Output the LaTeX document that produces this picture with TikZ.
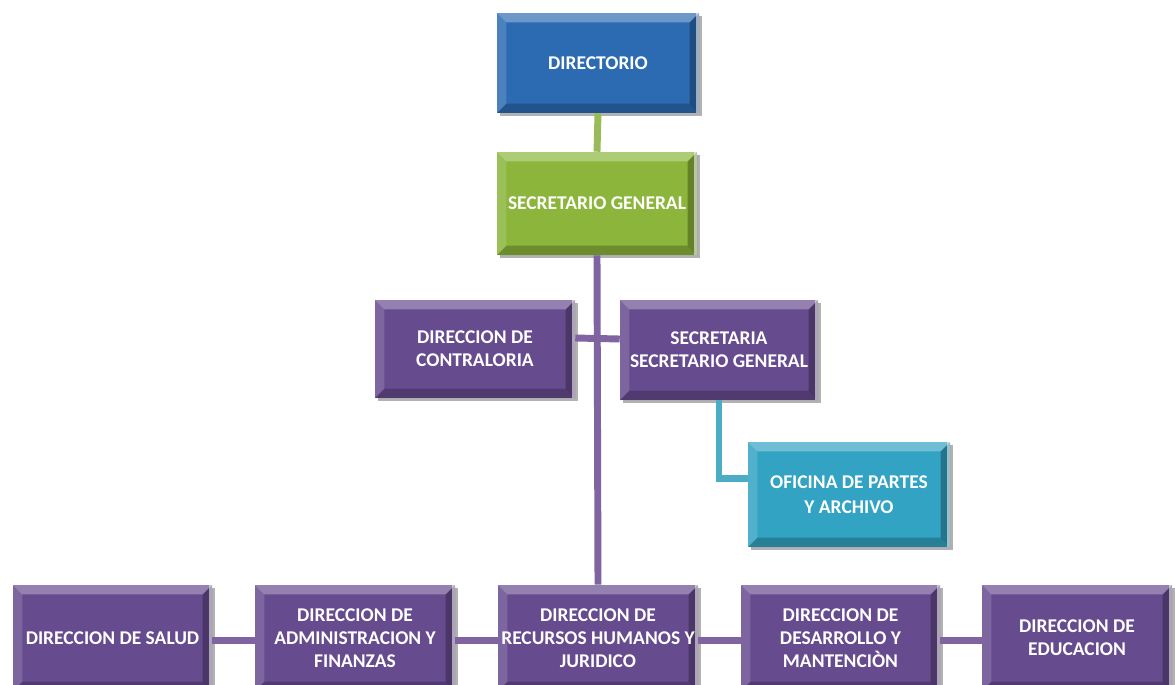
\documentclass[tikz,border=0pt]{standalone}
\usepackage{fontspec}
\setmainfont{Carlito}
\usetikzlibrary{shadows}
\definecolor{cblue}{HTML}{2C6BB2}
\definecolor{cgreen}{HTML}{8BB53B}
\definecolor{cpurple}{HTML}{674B8F}
\definecolor{ccyan}{HTML}{33A3C3}
\definecolor{lgreen}{HTML}{9BBB59}
\definecolor{lpurple}{HTML}{8064A2}
\definecolor{lcyan}{HTML}{4BACC6}
\tikzset{
  bevel/.style={path picture={
    \def\bb{path picture bounding box}
    \fill[white,opacity=.30] (\bb.north west) -- (\bb.north east) -- ([shift={(-7pt,-7pt)}]\bb.north east) -- ([shift={(7pt,-7pt)}]\bb.north west) -- cycle;
    \fill[white,opacity=.15] (\bb.north west) -- ([shift={(7pt,-7pt)}]\bb.north west) -- ([shift={(7pt,7pt)}]\bb.south west) -- (\bb.south west) -- cycle;
    \fill[black,opacity=.22] (\bb.south west) -- ([shift={(7pt,7pt)}]\bb.south west) -- ([shift={(-7pt,7pt)}]\bb.south east) -- (\bb.south east) -- cycle;
    \fill[black,opacity=.28] (\bb.north east) -- ([shift={(-7pt,-7pt)}]\bb.north east) -- ([shift={(-7pt,7pt)}]\bb.south east) -- (\bb.south east) -- cycle;
    \fill[white,opacity=.55] ([xshift=-2.2pt]\bb.north east) rectangle (\bb.south east);
  }},
  orgbox/.style={rectangle, bevel, text=white, align=center, inner sep=0pt,
    font=\fontsize{14.6pt}{17.3pt}\selectfont\bfseries,
    drop shadow={shadow xshift=2.5pt, shadow yshift=-2.5pt, opacity=.3, fill=black}},
  sz/.style 2 args={minimum width={#1*0.75pt}, minimum height={#2*0.75pt}},
  bluebox/.style={orgbox, fill=cblue},
  greenbox/.style={orgbox, fill=cgreen},
  purplebox/.style={orgbox, fill=cpurple},
  cyanbox/.style={orgbox, fill=ccyan},
  conn/.style={line width=5.2pt},
}
\begin{document}
\begin{tikzpicture}[x=0.75pt,y=-0.75pt]
\useasboundingbox[fill=white] (0,0) rectangle (1175,685);
% nodes
\node[bluebox, sz={202}{100}] (dir) at (598,63) {DIRECTORIO};
\node[greenbox, sz={200}{103}] (sg) at (597,203.5) {SECRETARIO GENERAL};
\node[purplebox, sz={200}{98}] (contra) at (475,349) {DIRECCION DE\\CONTRALORIA};
\node[purplebox, sz={198}{100}] (secr) at (719,350) {SECRETARIA\\SECRETARIO GENERAL};
\node[cyanbox, sz={202}{105}, font=\fontsize{14.6pt}{19pt}\selectfont\bfseries] (ofi) at (849,494.5) {OFICINA DE PARTES\\Y ARCHIVO};
\node[purplebox, sz={199}{106}] (salud) at (112.5,638) {DIRECCION DE SALUD};
\node[purplebox, sz={200}{106}] (admin) at (355,638) {DIRECCION DE\\ADMINISTRACION Y\\FINANZAS};
\node[purplebox, sz={200}{106}] (rrhh) at (598,638) {DIRECCION DE\\RECURSOS HUMANOS Y\\JURIDICO};
\node[purplebox, sz={199}{106}] (desa) at (840.5,638) {DIRECCION DE\\DESARROLLO Y\\MANTENCI\`ON};
\node[purplebox, sz={190}{106}] (educ) at (1077,638) {DIRECCION DE\\EDUCACION};
% connectors
\draw[conn, lgreen] (dir.south) -- (sg.north);
\draw[conn, lpurple] (sg.south) -- (rrhh.north);
\draw[conn, lpurple] ([yshift=8.25pt]contra.east) -- ([yshift=8.25pt]secr.west);
\draw[conn, lcyan] (secr.south) |- ([yshift=12pt]ofi.west);
\draw[conn, lpurple] ([yshift=-2.2pt]salud.east) -- ([yshift=-2.2pt]admin.west);
\draw[conn, lpurple] ([yshift=-2.2pt]admin.east) -- ([yshift=-2.2pt]rrhh.west);
\draw[conn, lpurple] ([yshift=-2.2pt]rrhh.east) -- ([yshift=-2.2pt]desa.west);
\draw[conn, lpurple] ([yshift=-2.2pt]desa.east) -- ([yshift=-2.2pt]educ.west);
\end{tikzpicture}
\end{document}
